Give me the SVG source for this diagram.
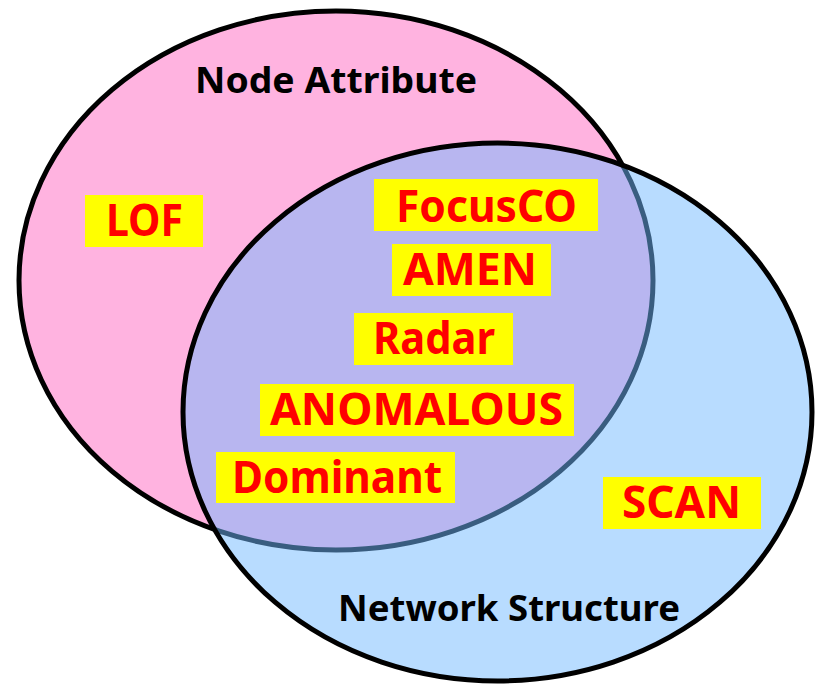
<svg xmlns="http://www.w3.org/2000/svg" width="815" height="685" viewBox="0 0 815 685">
<style>
.set{stroke:#000;stroke-width:5}
.box{fill:#FFFF00}
.lbl{font-family:"Noto Sans","Open Sans","Liberation Sans",sans-serif;font-weight:bold;fill:#FF0000;font-size:44px}
.title{font-family:"Noto Sans","Open Sans","Liberation Sans",sans-serif;font-weight:bold;fill:#000;font-size:36px}
</style>
<rect width="815" height="685" fill="#fff"/>
<g id="set-node-attribute">
<ellipse class="set" cx="336" cy="280.5" rx="317" ry="269.5" fill="#FFB3E0"/>
<text class="title" x="195" y="93" textLength="282" lengthAdjust="spacingAndGlyphs">Node Attribute</text>
</g>
<g id="set-network-structure">
<ellipse class="set" cx="497.5" cy="412" rx="314.5" ry="269" fill="rgb(113,185,255)" fill-opacity="0.5"/>
<text class="title" x="338" y="621" textLength="342" lengthAdjust="spacingAndGlyphs">Network Structure</text>
</g>
<g id="lof">
<rect class="box" x="85" y="195" width="118" height="52"/>
<text class="lbl" x="106" y="235.5" textLength="77" lengthAdjust="spacingAndGlyphs">LOF</text>
</g>
<g id="focusco">
<rect class="box" x="374" y="179" width="224" height="52"/>
<text class="lbl" x="396" y="221.5" textLength="181" lengthAdjust="spacingAndGlyphs">FocusCO</text>
</g>
<g id="amen">
<rect class="box" x="392" y="244" width="159" height="52"/>
<text class="lbl" x="403" y="285" textLength="134" lengthAdjust="spacingAndGlyphs">AMEN</text>
</g>
<g id="radar">
<rect class="box" x="354" y="313" width="159" height="52"/>
<text class="lbl" x="373" y="354" textLength="122" lengthAdjust="spacingAndGlyphs">Radar</text>
</g>
<g id="anomalous">
<rect class="box" x="260" y="384" width="314" height="52"/>
<text class="lbl" x="270" y="425" textLength="293" lengthAdjust="spacingAndGlyphs">ANOMALOUS</text>
</g>
<g id="dominant">
<rect class="box" x="216" y="452" width="239" height="51"/>
<text class="lbl" x="232" y="492.5" textLength="210" lengthAdjust="spacingAndGlyphs">Dominant</text>
</g>
<g id="scan">
<rect class="box" x="603" y="477" width="158" height="52"/>
<text class="lbl" x="622" y="518" textLength="119" lengthAdjust="spacingAndGlyphs">SCAN</text>
</g>
</svg>
